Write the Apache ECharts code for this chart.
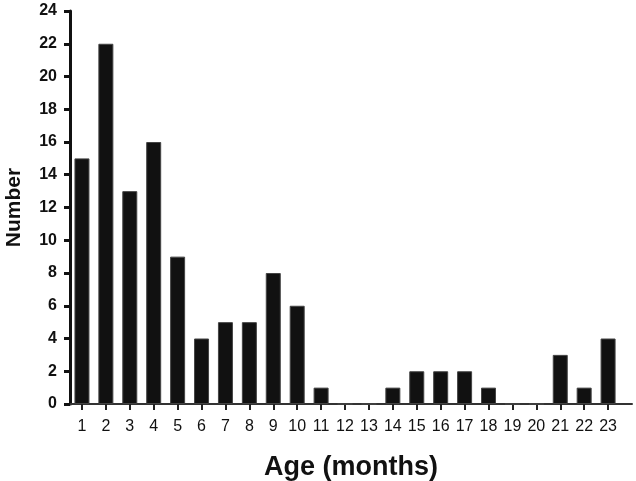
<!DOCTYPE html>
<html>
<head>
<meta charset="utf-8">
<script src="https://cdn.jsdelivr.net/npm/echarts@6/dist/echarts.min.js"></script>
<style>
  html, body { margin: 0; padding: 0; background: #fff; }
  #chart { width: 636px; height: 481px; }
</style>
</head>
<body>
<div id="chart"></div>
<script>
// Age in months (x) and number of cases (y)
const ages = [1, 2, 3, 4, 5, 6, 7, 8, 9, 10, 11, 12, 13, 14, 15, 16, 17, 18, 19, 20, 21, 22, 23];
const counts = [15, 22, 13, 16, 9, 4, 5, 5, 8, 6, 1, 0, 0, 1, 2, 2, 2, 1, 0, 0, 3, 1, 4];
const yTicks = [0, 2, 4, 6, 8, 10, 12, 14, 16, 18, 20, 22, 24];

const chart = echarts.init(document.getElementById("chart"));

const font = "Liberation Sans, Arial, sans-serif";

const options = {
  backgroundColor: "#fff",
  animation: false,
  grid: { left: 70, right: 4, top: 11, bottom: 77, outerBoundsMode: "none" },
  xAxis: {
    type: "value",
    min: 0.5,
    max: 24,
    name: "Age (months)",
    nameLocation: "middle",
    nameGap: 50,
    nameTextStyle: { fontFamily: font, fontWeight: "bold", fontSize: 27, color: "#111" },
    splitLine: { show: false },
    axisLine: { lineStyle: { color: "#333", width: 2 } },
    axisTick: { customValues: ages, length: 6, lineStyle: { color: "#222", width: 2 } },
    axisLabel: {
      customValues: ages,
      margin: 15,
      fontFamily: font,
      fontSize: 16,
      color: "#111"
    }
  },
  yAxis: {
    type: "value",
    min: 0,
    max: 24,
    interval: 2,
    name: "Number",
    nameLocation: "middle",
    nameGap: 45,
    nameTextStyle: { fontFamily: font, fontWeight: "bold", fontSize: 21, color: "#111" },
    splitLine: { show: false },
    axisLine: { show: true, lineStyle: { color: "#111", width: 3 } },
    axisTick: { show: true, length: 6, lineStyle: { color: "#111", width: 3 } },
    axisLabel: {
      margin: 13,
      fontFamily: font,
      fontWeight: "bold",
      fontSize: 16,
      color: "#111",
      formatter: (v) => (yTicks.includes(v) ? String(v) : "")
    }
  },
  series: [
    {
      type: "bar",
      barWidth: 15,
      data: ages.map((a, i) => [a, counts[i]]),
      itemStyle: { color: "#111", borderColor: "#444", borderWidth: 1 }
    }
  ]
};

chart.setOption(options);
</script>
</body>
</html>
